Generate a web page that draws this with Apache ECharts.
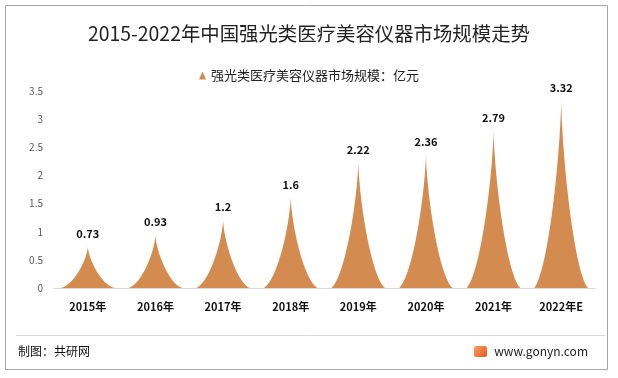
<!DOCTYPE html>
<html><head><meta charset="utf-8">
<script src="https://cdn.jsdelivr.net/npm/echarts@6/dist/echarts.min.js"></script>
<style>html,body{margin:0;padding:0;background:#fff}#c{width:618px;height:378px}</style>
</head><body><div id="c"></div>
<script>
const categories = ['2015年','2016年','2017年','2018年','2019年','2020年','2021年','2022年E'];
const values = [0.73, 0.93, 1.2, 1.6, 2.22, 2.36, 2.79, 3.32];
const seriesName = '强光类医疗美容仪器市场规模：亿元';
const yTicks = [0, 0.5, 1, 1.5, 2, 2.5, 3, 3.5];
const spike = 'path://M0,10 C2.6,9 4.8,3 5,0 C5.2,3 7.4,9 10,10 z';
const font = '"Microsoft YaHei","Noto Sans CJK SC",sans-serif';
const chart = echarts.init(document.getElementById('c'));
chart.setOption({
  animation: false,
  title: {text: '2015-2022年中国强光类医疗美容仪器市场规模走势', left: 'center', top: 19,
    textStyle: {fontFamily: font, fontSize: 19.4, fontWeight: 'normal', color: '#222'}},
  legend: {top: 64, left: 194, itemWidth: 7, itemHeight: 8, itemGap: 3,
    textStyle: {fontFamily: font, fontSize: 13, color: '#222'},
    data: [{name: seriesName, icon: 'triangle'}]},
  grid: {left: 54, right: 23, top: 91, bottom: 90},
  xAxis: {type: 'category', data: categories,
    axisLine: {lineStyle: {color: '#d9d9d9'}}, axisTick: {show: false},
    axisLabel: {fontFamily: font, fontSize: 11, fontWeight: 'bold', color: '#111', margin: 13}},
  yAxis: {type: 'value', min: yTicks[0], max: yTicks[yTicks.length-1], interval: 0.5,
    splitLine: {show: false}, axisLine: {show: false}, axisTick: {show: false},
    axisLabel: {fontFamily: font, fontSize: 10, color: '#595959', margin: 11, align: 'right'}},
  series: [{type: 'pictorialBar', name: seriesName, data: values, symbol: spike,
    symbolSize: ['79%', '100%'], barCategoryGap: '0%',
    itemStyle: {color: '#D38B4F'},
    label: {show: true, position: 'top', distance: 8, fontFamily: font, fontSize: 11,
      fontWeight: 'bold', color: '#111'}}],
  graphic: [
    {type: 'rect', shape: {x: 5.5, y: 5.5, width: 602, height: 364}, style: {fill: 'none', stroke: '#a6a6a6', lineWidth: 1}, silent: true},
    {type: 'line', shape: {x1: 16, y1: 335.5, x2: 605, y2: 335.5}, style: {stroke: '#d9d9d9', lineWidth: 1}},
    {type: 'text', left: 18, top: 345, style: {text: '制图：共研网', font: '12px ' + font, fill: '#111'}},
    {type: 'rect', shape: {x: 474, y: 346, width: 13, height: 11, r: 2}, style: {fill: new echarts.graphic.LinearGradient(0,0,1,1,[{offset:0,color:'#f7a35c'},{offset:1,color:'#e8562a'}])}},
    {type: 'text', right: 30, top: 345, style: {text: 'www.gonyn.com', font: '12px ' + font, fill: '#222'}}
  ]
});
</script></body></html>
